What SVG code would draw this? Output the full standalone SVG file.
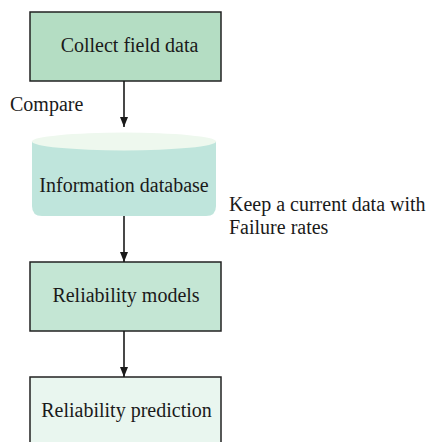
<svg xmlns="http://www.w3.org/2000/svg" width="428" height="442" viewBox="0 0 428 442">
<style>
  text { font-family: "Liberation Serif", "Times New Roman", serif; font-size: 20px; fill: #1a1a1a; }
  .box { stroke: #222; stroke-width: 1.5; }
  .conn { stroke: #1a1a1a; stroke-width: 1.6; fill: none; marker-end: url(#arr); }
</style>
<defs>
  <marker id="arr" viewBox="0 0 10 10" refX="10" refY="5" markerWidth="10" markerHeight="10" markerUnits="userSpaceOnUse" orient="auto">
    <path d="M0,1 L10,5 L0,9 Z" fill="#1a1a1a"/>
  </marker>
</defs>
<rect width="428" height="442" fill="#ffffff"/>
<g id="collect">
  <rect class="box" x="30" y="12" width="191" height="69" fill="#b4ddc3"/>
  <text x="129.5" y="52" text-anchor="middle">Collect field data</text>
</g>
<g id="database">
  <path d="M32,141.5 L216,141.5 L216,206 Q216,216 206,216 L42,216 Q32,216 32,206 Z" fill="#bfe5dc"/>
  <ellipse cx="124" cy="141.5" rx="92" ry="9" fill="#eef8ee"/>
  <text x="124" y="192" text-anchor="middle">Information database</text>
</g>
<g id="models">
  <rect class="box" x="30" y="262" width="191" height="69" fill="#c4e6d4"/>
  <text x="126" y="302" text-anchor="middle">Reliability models</text>
</g>
<g id="prediction">
  <rect class="box" x="30" y="377" width="191" height="80" fill="#e9f6ef"/>
  <text x="126.5" y="417" text-anchor="middle">Reliability prediction</text>
</g>
<g id="labels">
  <text x="10" y="111">Compare</text>
  <text x="229" y="211">Keep a current data with</text>
  <text x="229" y="234">Failure rates</text>
</g>
<g id="connectors">
  <line class="conn" x1="124" y1="81" x2="124" y2="127"/>
  <line class="conn" x1="124" y1="216" x2="124" y2="262"/>
  <line class="conn" x1="124" y1="331" x2="124" y2="377"/>
</g>
</svg>
